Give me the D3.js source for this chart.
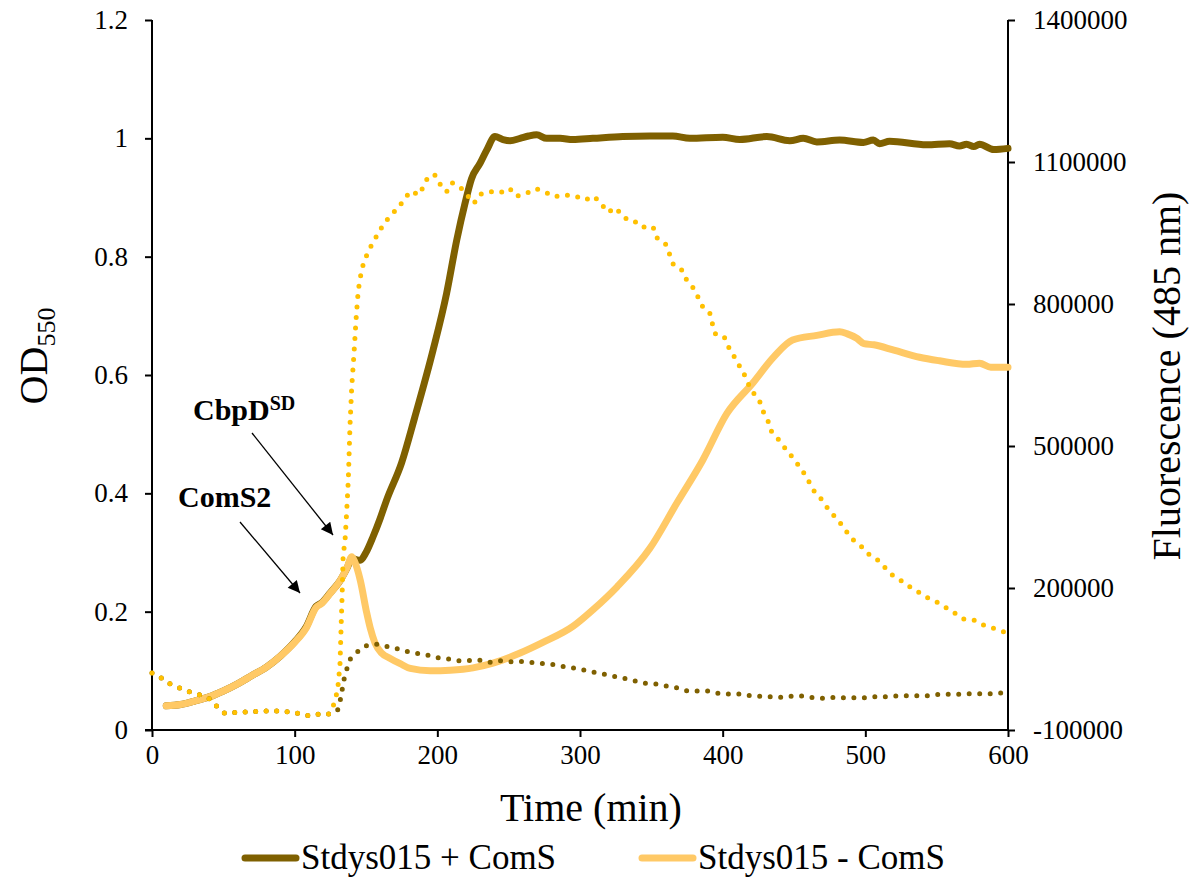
<!DOCTYPE html>
<html>
<head>
<meta charset="utf-8">
<script src="https://cdn.jsdelivr.net/npm/d3@7"></script>
<style>
  body { margin: 0; background: #fff; }
  text { font-family: "Liberation Serif", "Times New Roman", serif; }
</style>
</head>
<body>
<div class="chart"></div>
<script>
// OD550 (left axis), [time, OD]
var odPlus = [[10,0.041],[20,0.043],[30,0.049],[40,0.056],[50,0.066],[60,0.078],[70,0.092],[80,0.106],[90,0.125],[100,0.149],[108,0.174],[115,0.209],[119,0.215],[125,0.232],[132,0.253],[137,0.275],[140,0.290],[143,0.288],[146,0.287],[150,0.300],[155,0.327],[160,0.358],[164.5,0.389],[175,0.452],[184,0.527],[197,0.642],[206.5,0.738],[213.6,0.828],[219.4,0.890],[224,0.932],[230,0.958],[234.6,0.980],[240.4,1.003],[246,0.998],[251,0.996],[258,1.000],[264,1.004],[269.6,1.006],[276.6,1.000],[286,1.000],[295,0.998],[309,1.000],[330,1.003],[349,1.004],[365,1.004],[377,1.000],[400,1.002],[412,0.998],[431,1.003],[447,0.996],[456.5,1.000],[466,0.994],[482,0.997],[498.6,0.993],[505.6,0.997],[510,0.991],[517,0.995],[543,0.989],[559,0.991],[566,0.987],[571,0.990],[576,0.986],[580,0.990],[590,0.981],[600,0.983]];
var odMinus = [[10,0.041],[20,0.043],[30,0.049],[40,0.056],[50,0.066],[60,0.078],[70,0.092],[80,0.106],[90,0.125],[100,0.148],[108,0.172],[115,0.207],[119,0.214],[125,0.231],[132,0.253],[137,0.276],[140,0.293],[142,0.285],[146,0.253],[150.5,0.198],[153,0.172],[156.3,0.147],[161,0.130],[167,0.121],[174,0.112],[181,0.104],[195,0.100],[209,0.101],[225,0.105],[239,0.113],[258,0.130],[274,0.148],[295,0.175],[309,0.203],[326,0.242],[349,0.307],[368,0.384],[386,0.456],[403,0.535],[421,0.586],[436,0.631],[449,0.659],[466,0.667],[482,0.673],[487,0.670],[494,0.662],[499,0.653],[506,0.651],[520,0.642],[538,0.630],[552,0.624],[571,0.618],[580,0.620],[588,0.613],[600,0.613]];

// Fluorescence 485 nm (right axis), [time, value]
var flPlus = [[0,20400],[7,9230],[13,-3450],[20,-11900],[27,-20350],[34,-26060],[41,-35140],[46,-52040],[51,-64720],[59,-62610],[66,-61970],[74,-60490],[81.5,-59860],[89,-59860],[96.7,-61970],[103.7,-65560],[110,-69790],[117,-66200],[124,-66200],[130,-59230],[132,-36620],[134.6,7110],[136.5,28240],[138.8,49370],[143.5,64150],[149.3,77460],[156.3,81690],[163.3,77460],[170.8,72600],[177.8,66270],[185,62040],[192.5,58450],[199.5,52750],[207,50630],[214.3,46410],[221.7,46410],[229.2,47890],[236.4,43030],[243.4,46410],[251,44300],[258,45140],[265.4,43030],[272.8,40920],[280.3,38800],[287.8,34580],[295.3,30990],[302.3,26760],[309.8,21900],[330,9860],[345.8,-1340],[353,-2820],[360.7,-7040],[367.7,-10630],[374.8,-16970],[382,-17610],[389.3,-17610],[396.8,-22470],[404,-23940],[411.7,-23940],[419,-27530],[426,-28800],[433.6,-29650],[441.3,-30910],[448.8,-28170],[456,-28170],[463.5,-31760],[470.8,-33030],[478,-30910],[485.5,-31760],[492.7,-31760],[500.2,-31760],[507.7,-29650],[515,-29650],[522.4,-28170],[530,-27530],[537.4,-27530],[544.6,-27530],[551.8,-24570],[559.6,-24570],[567,-24570],[574.3,-23300],[581.8,-23300],[589.3,-23300],[596.7,-21200],[600,-21200]];
var flMinus = [[0,20400],[7,9230],[13,-3450],[20,-11900],[27,-20350],[34,-26060],[41,-35140],[46,-52040],[51,-64720],[59,-62610],[66,-61970],[74,-60490],[81.5,-59860],[89,-59860],[96.7,-61970],[103.7,-65560],[110,-69790],[117,-66200],[124,-66200],[127.8,-43590],[129.5,-22470],[130.6,-1340],[131.8,40920],[132.7,132400],[133.2,178240],[134,269720],[135.3,300000],[136.4,357820],[137.6,428170],[138.8,545000],[140,625300],[141.6,695830],[143,766230],[144.6,829600],[147,873300],[149.3,894440],[152.3,915570],[159.4,954230],[163.6,973870],[168.5,990780],[173.4,1006410],[177.6,1025420],[181.8,1038730],[186.7,1030280],[190.6,1049300],[193.7,1070430],[198.6,1071900],[202.3,1051400],[206.5,1037250],[210.3,1056260],[216.4,1045700],[221.3,1028800],[225.7,1012740],[230,1031750],[236.7,1037250],[244,1035140],[250.5,1044440],[255.4,1027540],[262.4,1033870],[269,1043590],[275.5,1036630],[282,1026700],[289.5,1030280],[296.5,1028170],[303.5,1019720],[309.8,1027540],[315,1011270],[319.4,993740],[325.2,1003450],[329.7,985920],[335.7,973870],[341.6,972610],[346.5,957820],[351.6,959930],[354.2,938800],[360,926130],[362.8,905000],[365.4,883870],[371.3,871830],[374.5,852180],[379.2,834440],[382.7,814790],[386,794300],[391,780350],[392.7,759230],[395,736620],[401,730920],[404,709790],[407.7,690780],[411.4,671130],[415,652110],[418,630980],[421.5,612600],[426,593590],[428.5,572460],[431.8,552810],[434.3,530210],[439,514150],[443.5,496400],[448,479500],[452.5,461980],[456.8,443600],[460.6,423950],[464.2,404300],[469,388030],[473.3,369650],[478,352750],[483,335220],[487.4,316840],[491.8,300780],[497.6,286620],[502.8,270360],[508.9,258530],[514,242260],[519.4,225990],[525.5,214790],[531.5,202110],[537.6,190920],[543.7,179500],[550.5,169790],[556.7,158380],[563,146550],[569.1,134510],[576,132390],[582.7,121830],[589.7,114860],[596.7,107680],[600,106000]];

var xTicks = [0, 100, 200, 300, 400, 500, 600];
var odTicks = [0, 0.2, 0.4, 0.6, 0.8, 1, 1.2];
var flTicks = [-100000, 200000, 500000, 800000, 1100000, 1400000];
var legendLabels = ["Stdys015 + ComS", "Stdys015 - ComS"];

var dark = "#7f6000", light = "#ffc966", bright = "#ffc000";
var serif = "'Liberation Serif', 'Times New Roman', serif";

var margin = {top: 20, right: 185, bottom: 147, left: 152},
    W = 1193, H = 877,
    width = W - margin.left - margin.right,
    height = H - margin.top - margin.bottom;

var svg = d3.select(".chart")
  .append("svg")
    .attr("width", W)
    .attr("height", H)
  .append("g")
    .attr("transform", "translate(" + margin.left + "," + margin.top + ")");

var x = d3.scaleLinear().domain([0, 600]).range([0, width]);
var yL = d3.scaleLinear().domain([0, 1.2]).range([height, 0]);
var yR = d3.scaleLinear().domain([-100000, 1400000]).range([height, 0]);

// plain hyphen for negatives, like the original
var plain = function(d) { return String(+d.toFixed(1)); };

// axes
var xAxis = svg.append("g")
    .attr("transform", "translate(0," + height + ")")
    .call(d3.axisBottom(x).tickValues(xTicks).tickSize(7).tickPadding(8).tickFormat(plain));
var lAxis = svg.append("g")
    .call(d3.axisLeft(yL).tickValues(odTicks).tickSize(7).tickPadding(17).tickFormat(plain));
var rAxis = svg.append("g")
    .attr("transform", "translate(" + width + ",0)")
    .call(d3.axisRight(yR).tickValues(flTicks).tickSize(7).tickPadding(18).tickFormat(plain));

[xAxis, lAxis, rAxis].forEach(function(a) {
  a.attr("font-family", serif).attr("font-size", 27);
  a.select(".domain").attr("stroke", "#000").attr("stroke-width", 2);
  a.selectAll(".tick line").attr("stroke", "#000").attr("stroke-width", 2);
  a.selectAll(".tick text").attr("fill", "#000").style("font-size", "27px")
    .style("font-family", serif);
});
xAxis.select(".domain").attr("d", "M-7,0H" + width);
lAxis.select(".domain").attr("d", "M0,0V" + height);
rAxis.select(".domain").attr("d", "M0,0V" + height);

// lines
var lineL = d3.line().curve(d3.curveMonotoneX)
    .x(function(d) { return x(d[0]); }).y(function(d) { return yL(d[1]); });
var lineR = d3.line()
    .x(function(d) { return x(d[0]); }).y(function(d) { return yR(d[1]); });

svg.append("path").datum(odPlus).attr("d", lineL)
  .attr("fill", "none").attr("stroke", dark).attr("stroke-width", 7)
  .attr("stroke-linejoin", "round").attr("stroke-linecap", "round");
svg.append("path").datum(odMinus).attr("d", lineL)
  .attr("fill", "none").attr("stroke", light).attr("stroke-width", 7)
  .attr("stroke-linejoin", "round").attr("stroke-linecap", "round");
svg.append("path").datum(flPlus).attr("d", lineR)
  .attr("fill", "none").attr("stroke", dark).attr("stroke-width", 5)
  .attr("stroke-dasharray", "0 10.5").attr("stroke-linecap", "round");
svg.append("path").datum(flMinus).attr("d", lineR)
  .attr("fill", "none").attr("stroke", bright).attr("stroke-width", 5)
  .attr("stroke-dasharray", "0 10.5").attr("stroke-linecap", "round");

// annotations with arrows
var defs = svg.append("defs");
defs.append("marker").attr("id", "arr")
    .attr("viewBox", "0 0 10 10").attr("refX", 10).attr("refY", 5)
    .attr("markerWidth", 16).attr("markerHeight", 12).attr("markerUnits", "userSpaceOnUse")
    .attr("orient", "auto")
  .append("path").attr("d", "M0,0L10,5L0,10z").attr("fill", "#000");

var ann = [
  {label: "CbpD", sup: "SD", tx: 193, ty: 420, x1: 252, y1: 433, x2: 333, y2: 535},
  {label: "ComS2", sup: "", tx: 178, ty: 507, x1: 240, y1: 522, x2: 300, y2: 593}
];
ann.forEach(function(a) {
  var t = svg.append("text")
      .attr("x", a.tx - margin.left).attr("y", a.ty - margin.top)
      .style("font-size", "30px").style("font-weight", "bold").text(a.label);
  if (a.sup) t.append("tspan").attr("dy", -10).style("font-size", "20px").text(a.sup);
  svg.append("line")
      .attr("x1", a.x1 - margin.left).attr("y1", a.y1 - margin.top)
      .attr("x2", a.x2 - margin.left).attr("y2", a.y2 - margin.top)
      .attr("stroke", "#000").attr("stroke-width", 1.3).attr("marker-end", "url(#arr)");
});

// axis titles
svg.append("text")
    .attr("x", 591 - margin.left).attr("y", 821 - margin.top)
    .attr("text-anchor", "middle").style("font-size", "40px").text("Time (min)");

var od = svg.append("text")
    .attr("transform", "translate(" + (47 - margin.left) + "," + (356 - margin.top) + ") rotate(-90)")
    .attr("text-anchor", "middle").style("font-size", "40px").text("OD");
od.append("tspan").attr("dy", 8).style("font-size", "26px").text("550");

svg.append("text")
    .attr("transform", "translate(" + (1180 - margin.left) + "," + (376 - margin.top) + ") rotate(-90)")
    .attr("text-anchor", "middle").style("font-size", "40px").text("Fluorescence (485 nm)");

// legend
var leg = svg.append("g").attr("transform", "translate(" + (243 - margin.left) + "," + (858 - margin.top) + ")");
[dark, light].forEach(function(c, i) {
  var g = leg.append("g").attr("transform", "translate(" + (i * 397) + ",0)");
  g.append("line").attr("x1", 2).attr("x2", 53).attr("y1", 0).attr("y2", 0)
    .attr("stroke", c).attr("stroke-width", 7).attr("stroke-linecap", "round");
  g.append("text").attr("x", 58).attr("y", 11).style("font-size", "35px").text(legendLabels[i]);
});
</script>
</body>
</html>
